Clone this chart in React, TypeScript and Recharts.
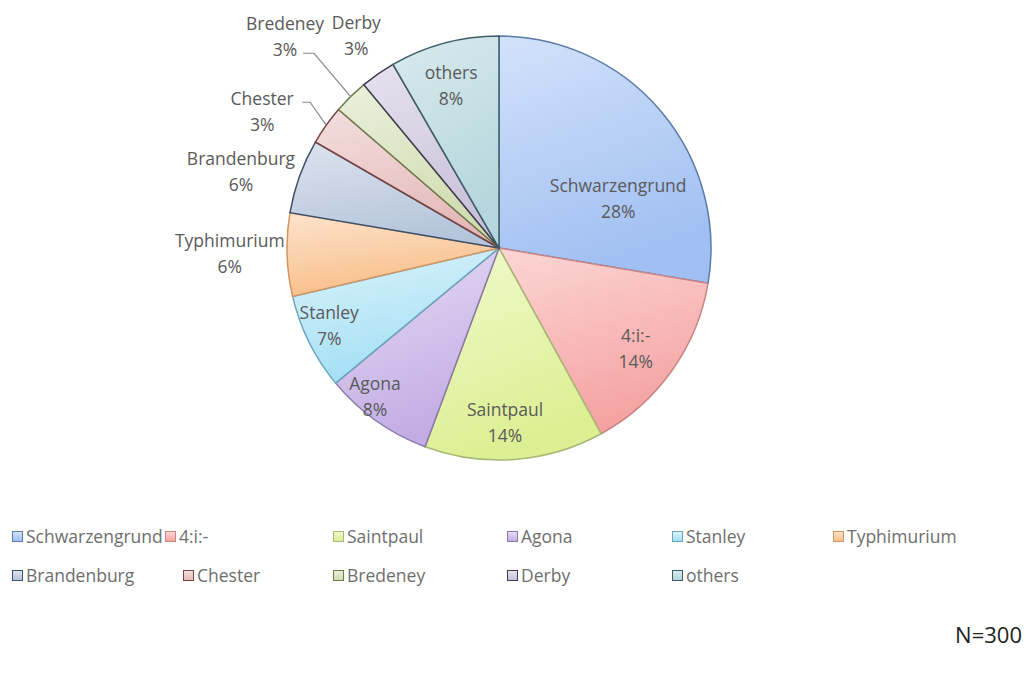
import React from "react";
import { PieChart, Pie, Cell, Legend } from "recharts";

const serotypes = [
  "Schwarzengrund", "4:i:-", "Saintpaul", "Agona", "Stanley", "Typhimurium",
  "Brandenburg", "Chester", "Bredeney", "Derby", "others",
];
const counts = [83, 43, 41, 25, 22, 19, 17, 9, 8, 8, 25];
const totalLabel = "N=300";

const lightColors = ["#d3e2fa", "#fcd6d5", "#f1f9cc", "#e7ddf5", "#dcf3fb", "#fde3cd", "#dce3ee", "#f4dede", "#eaf0dc", "#e6e2ee", "#d9eaee"];
const darkColors = ["#a0bff2", "#f4a3a2", "#dcef93", "#c2ace3", "#a3dff4", "#f9be88", "#b5c5db", "#e4b9b9", "#d0dcb1", "#c9c1d9", "#b4d6dc"];
const strokeColors = ["#5a7ba8", "#c98483", "#a9b874", "#8b78a8", "#6aa7bd", "#d0955f", "#3c5068", "#7a4444", "#6f7d4c", "#3f3a4f", "#3e5f68"];

const data = serotypes.map((name, i) => ({ name, value: counts[i] }));
const total = counts.reduce((a, b) => a + b, 0);

// label layout: radius factor and angular nudge (clockwise degrees)
const LABEL_LAYOUT = [
  { r: 0.61, d: 17.4 },
  { r: 0.8, d: 0.9 },
  { r: 0.82, d: 2.2 },
  { r: 0.91, d: 4.6 },
  { r: 0.88, d: 1.9 },
  { r: 1.27, d: 0.8 },
  { r: 1.27, d: -3.2 },
  { r: 1.29, d: -5.4 },
  { r: 1.42, d: -0.9 },
  { r: 1.21, d: 1.0 },
  { r: 0.8, d: -1.4 },
];
const LEADERS: Record<number, { dx: number; dy: number; h: number }> = {
  7: { dx: 40, dy: -9, h: 8 },
  8: { dx: 18, dy: 17, h: 11 },
};

const RAD = Math.PI / 180;
const FONT = "'Open Sans', 'DejaVu Sans', sans-serif";
const FS = 17.5;

const renderLabel = (props: any) => {
  const { cx, cy, midAngle, outerRadius, index, value } = props;
  const lay = LABEL_LAYOUT[index];
  const ang = midAngle - lay.d;
  const r = outerRadius * lay.r;
  const x = cx + r * Math.cos(-ang * RAD);
  const y = cy + r * Math.sin(-ang * RAD);
  const pct = Math.round((value / total) * 100) + "%";
  const leader = LEADERS[index];
  let line = null;
  if (leader) {
    const ex = cx + outerRadius * Math.cos(-midAngle * RAD);
    const ey = cy + outerRadius * Math.sin(-midAngle * RAD);
    const sx = x + leader.dx;
    const sy = y + leader.dy;
    line = (
      <polyline
        points={`${sx},${sy} ${sx + leader.h},${sy} ${ex},${ey}`}
        fill="none"
        stroke="#8a8a8a"
        strokeWidth={1.2}
      />
    );
  }
  return (
    <g key={`lbl-${index}`}>
      {line}
      <text x={x} y={y - 13} textAnchor="middle" dominantBaseline="central" fill="#5a5a5a" fontSize={FS} fontFamily={FONT}>
        {serotypes[index]}
      </text>
      <text x={x} y={y + 13} textAnchor="middle" dominantBaseline="central" fill="#5a5a5a" fontSize={FS} fontFamily={FONT}>
        {pct}
      </text>
    </g>
  );
};

const LEGEND_POS = [
  { x: 12, y: 536 }, { x: 165, y: 536 }, { x: 333, y: 536 }, { x: 507, y: 536 }, { x: 672, y: 536 }, { x: 833, y: 536 },
  { x: 12, y: 575 }, { x: 183, y: 575 }, { x: 333, y: 575 }, { x: 507, y: 575 }, { x: 672, y: 575 },
];

const LegendContent = () => (
  <div style={{ position: "relative", width: 1026, height: 80 }}>
    {serotypes.map((name, i) => (
      <div
        key={name}
        style={{
          position: "absolute",
          left: LEGEND_POS[i].x,
          top: LEGEND_POS[i].y - 520 - 12,
          height: 24,
          display: "flex",
          alignItems: "center",
          fontFamily: FONT,
          fontSize: FS,
          color: "#6e6e6e",
          whiteSpace: "nowrap",
        }}
      >
        <span
          style={{
            display: "inline-block",
            width: 9,
            height: 9,
            border: `1px solid ${strokeColors[i]}`,
            background: `linear-gradient(${lightColors[i]}, ${darkColors[i]})`,
            marginRight: 3,
          }}
        />
        {name}
      </div>
    ))}
  </div>
);

export default function App() {
  return (
    <div style={{ position: "absolute", left: 0, top: 0, width: 1026, height: 674, background: "#fff" }}>
      <svg width={0} height={0} style={{ position: "absolute" }}>
        <defs>
          {serotypes.map((_, i) => (
            <linearGradient key={i} id={`grad${i}`} x1="0" y1="0" x2="0.3" y2="1">
              <stop offset="0%" stopColor={lightColors[i]} />
              <stop offset="100%" stopColor={darkColors[i]} />
            </linearGradient>
          ))}
        </defs>
      </svg>
      <PieChart width={1026} height={674} margin={{ top: 0, right: 0, bottom: 0, left: 0 }}>
        <Pie
          data={data}
          dataKey="value"
          nameKey="name"
          cx={499}
          cy={248}
          outerRadius={212}
          startAngle={90}
          endAngle={-270}
          isAnimationActive={false}
          label={renderLabel}
          labelLine={false}
          stroke="#333"
        >
          {data.map((d, i) => (
            <Cell key={d.name} fill={`url(#grad${i})`} stroke={strokeColors[i]} strokeWidth={1.5} />
          ))}
        </Pie>
        <Legend
          content={() => <LegendContent />}
          wrapperStyle={{ position: "absolute", left: 0, top: 520, width: 1026, height: 80 }}
        />
      </PieChart>
      <div
        style={{
          position: "absolute",
          right: 4,
          top: 619,
          fontFamily: FONT,
          fontSize: 22,
          color: "#222",
        }}
      >
        {totalLabel}
      </div>
    </div>
  );
}
